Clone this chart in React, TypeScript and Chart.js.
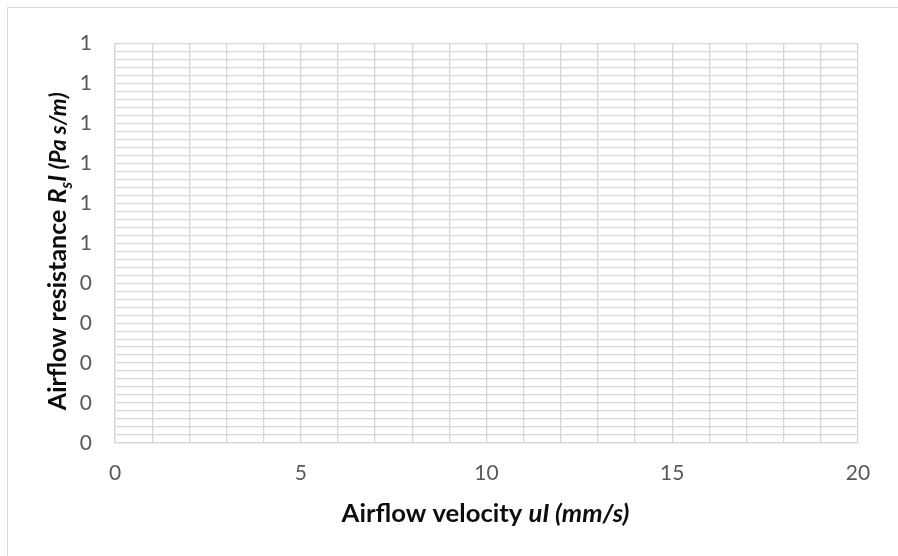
import React, { useEffect, useRef } from "react";
import { Chart, registerables } from "chart.js";

Chart.register(...registerables);

// Axis ranges / ticks
const xMin = 0;
const xMax = 20;
const xGridStep = 1;
const xLabelEvery = 5;
const yMin = 0;
const yMax = 1;
const yGridStep = 0.02;
const yLabelEvery = 0.1;
// The chart holds no plotted series (empty)
const seriesPoints: { x: number; y: number }[] = [];

const xTitleParts = [
  { text: "Airflow velocity ", style: "bold", scale: 1, sub: false },
  { text: "uI (mm/s)", style: "italic bold", scale: 1, sub: false },
];
const yTitleParts = [
  { text: "Airflow resistance ", style: "bold", scale: 1, sub: false },
  { text: "R", style: "italic bold", scale: 1, sub: false },
  { text: "s", style: "italic bold", scale: 0.65, sub: true },
  { text: "I ", style: "italic bold", scale: 1, sub: false },
  { text: "(Pa s/m)", style: "italic bold", scale: 0.9, sub: false },
];

const FONT = "Lato, 'Open Sans', sans-serif";
const TICK_SIZE = 21;

function drawParts(
  ctx: CanvasRenderingContext2D,
  parts: typeof xTitleParts,
  cx: number,
  baseline: number,
  targetWidth: number
) {
  const measure = (size: number) => {
    let t = 0;
    for (const p of parts) {
      ctx.font = `${p.style} ${size * p.scale}px ${FONT}`;
      t += ctx.measureText(p.text).width;
    }
    return t;
  };
  const base = 20;
  const size = (base * targetWidth) / measure(base);
  const total = measure(size);
  let x = cx - total / 2;
  ctx.textBaseline = "alphabetic";
  ctx.textAlign = "left";
  ctx.fillStyle = "#0d0d0d";
  for (const p of parts) {
    ctx.font = `${p.style} ${size * p.scale}px ${FONT}`;
    ctx.fillText(p.text, x, baseline + (p.sub ? size * 0.22 : 0));
    x += ctx.measureText(p.text).width;
  }
}

const titlesPlugin = {
  id: "mixedTitles",
  afterDraw(chart: any) {
    const ctx = chart.ctx as CanvasRenderingContext2D;
    const ca = chart.chartArea;
    ctx.save();
    drawParts(ctx, xTitleParts, (ca.left + ca.right) / 2 - 1, 514, 288);
    ctx.restore();
    ctx.save();
    ctx.translate(58, (ca.top + ca.bottom) / 2 + 8);
    ctx.rotate(-Math.PI / 2);
    drawParts(ctx, yTitleParts, 0, 0, 318);
    ctx.restore();
  },
};

export default function App() {
  const ref = useRef<HTMLCanvasElement | null>(null);
  useEffect(() => {
    if (!ref.current) return;
    const gridColor = "#d6d6d6";
    const chart = new Chart(ref.current, {
      type: "scatter",
      data: { datasets: [{ data: seriesPoints, pointRadius: 0 }] },
      options: {
        animation: false,
        responsive: false,
        maintainAspectRatio: false,
        layout: { padding: { left: 0, right: 40, top: 29, bottom: 0 } },
        plugins: { legend: { display: false }, tooltip: { enabled: false } },
        scales: {
          x: {
            type: "linear",
            min: xMin,
            max: xMax,
            afterFit: (s: any) => {
              s.height = 113;
            },
            grid: { color: gridColor, lineWidth: 1.3, drawTicks: false },
            border: { display: true, color: gridColor, width: 1.3 },
            ticks: {
              stepSize: xGridStep,
              autoSkip: false,
              maxRotation: 0,
              padding: 18,
              color: "#595959",
              font: { family: FONT, size: TICK_SIZE },
              callback: (v: any) => {
                const n = Number(v);
                return Math.abs(n / xLabelEvery - Math.round(n / xLabelEvery)) < 1e-6 ? String(Math.round(n)) : "";
              },
            },
          },
          y: {
            type: "linear",
            min: yMin,
            max: yMax,
            afterFit: (s: any) => {
              s.width = 107;
            },
            grid: { color: gridColor, lineWidth: 1.3, drawTicks: false },
            border: { display: true, color: gridColor, width: 1.3 },
            ticks: {
              stepSize: yGridStep,
              autoSkip: false,
              maxTicksLimit: 1000,
              padding: 23,
              color: "#595959",
              font: { family: FONT, size: TICK_SIZE },
              callback: (v: any) => {
                const n = Number(v);
                const k = n / yLabelEvery;
                if (Math.abs(k - Math.round(k)) > 1e-6) return "";
                const val = Math.round(k) / 10;
                return Math.round(val).toFixed(0);
              },
            },
          },
        },
      },
      plugins: [titlesPlugin],
    } as any);
    return () => chart.destroy();
  }, []);
  return (
    <div
      style={{
        position: "absolute",
        left: 7,
        top: 7,
        width: 891,
        height: 549,
        boxSizing: "border-box",
        borderTop: "1px solid #d9d9d9",
        borderLeft: "1px solid #d9d9d9",
        background: "#fff",
      }}
    >
      <canvas ref={ref} width={890} height={548} style={{ display: "block", width: 890, height: 548 }} />
    </div>
  );
}
